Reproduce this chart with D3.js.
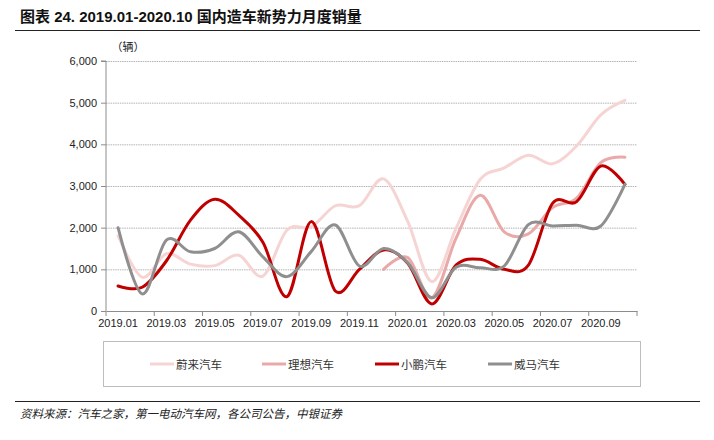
<html>

<head>
  <meta charset="utf-8">
  <script src="https://d3js.org/d3.v7.min.js"></script>
  <style>
    body {
      margin: 0;
      background: white;
    }

    svg {
      font-family: "Liberation Sans", Arial, "Noto Sans CJK SC", sans-serif;
    }

    .cTitle {
      font-weight: bold;
      font-size: 15px;
      fill: #111;
    }

    .axis text {
      font-size: 11px;
      fill: #222;
    }

    .axis path,
    .axis line {
      stroke: #8c8c8c;
    }

    .grid line {
      stroke: #b4b4b4;
      stroke-dasharray: 1.5, 0.8;
    }

    .grid path {
      display: none;
    }

    .legendText {
      font-family: "Noto Sans CJK SC", sans-serif;
      font-size: 11.5px;
      fill: #333;
    }

    .source {
      font-family: "Noto Sans CJK SC", sans-serif;
      font-size: 11.5px;
      font-style: italic;
      fill: #222;
    }
  </style>
</head>

<body>
  <svg id="salesVis" width="714" height="440"></svg>
  <script>
    // months on the x axis
    let months = ["2019.01", "2019.02", "2019.03", "2019.04", "2019.05", "2019.06", "2019.07", "2019.08",
      "2019.09", "2019.10", "2019.11", "2019.12", "2020.01", "2020.02", "2020.03", "2020.04", "2020.05",
      "2020.06", "2020.07", "2020.08", "2020.09", "2020.10"];

    // monthly sales (辆)
    let nioSales = [1805, 811, 1373, 1124, 1089, 1340, 837, 1943, 2019, 2526, 2528, 3170,
      2150, 707, 1980, 3155, 3436, 3740, 3533, 3965, 4708, 5055];
    // 理想 starts in 2019.12
    let liSales = [null, null, null, null, null, null, null, null, null, null, null, 1000,
      1280, 318, 1742, 2780, 1900, 1850, 2480, 2711, 3560, 3692];
    let xpengSales = [600, 570, 1200, 2180, 2680, 2300, 1650, 345, 2145, 480, 1000, 1465,
      1145, 170, 1100, 1240, 1000, 1100, 2585, 2625, 3478, 3040];
    let wmSales = [2000, 410, 1700, 1420, 1500, 1900, 1300, 825, 1425, 2065, 1080, 1500,
      1160, 320, 1050, 1040, 1080, 2075, 2040, 2060, 2040, 3040];

    let yTicks = [0, 1000, 2000, 3000, 4000, 5000, 6000];

    let seriesNames = ["蔚来汽车", "理想汽车", "小鹏汽车", "威马汽车"];
    let seriesValues = [nioSales, liSales, xpengSales, wmSales];
    let colorList = ["#f6d4d4", "#e9a9a9", "#c00000", "#8f8f8f"];

    let svg = d3.select("svg#salesVis");
    let w = svg.attr("width");

    let margins = { "left": 106, "right": 77, "top": 61, "bottom": 129 };
    let chartRight = w - margins.right;
    let chartBottom = 440 - margins.bottom;

    // title and rule
    svg.append("text")
      .attr("class", "cTitle")
      .attr("x", 20)
      .attr("y", 22)
      .text("图表 24. 2019.01-2020.10 国内造车新势力月度销量");

    svg.append("line")
      .attr("x1", 15).attr("x2", 700)
      .attr("y1", 30.5).attr("y2", 30.5)
      .attr("stroke", "#222")
      .attr("stroke-width", 1);

    let xScale = d3.scaleBand(months, [margins.left, chartRight]).padding(0);
    let yScale = d3.scaleLinear([0, 6000], [chartBottom, margins.top]);

    // grid
    let leftGrid = d3.axisLeft(yScale)
      .tickValues(yTicks.filter(t => t > 0))
      .tickFormat("")
      .tickSize(-(chartRight - margins.left));
    svg.append("g")
      .attr("class", "grid")
      .attr("transform", `translate(${margins.left}, 0)`)
      .call(leftGrid);

    // y axis
    let leftAxis = d3.axisLeft(yScale)
      .tickValues(yTicks)
      .tickFormat(d3.format(","))
      .tickSize(5)
      .tickPadding(4);
    svg.append("g")
      .attr("class", "y axis")
      .attr("transform", `translate(${margins.left}, 0)`)
      .call(leftAxis)
      .call(g => g.select(".domain").attr("d", `M-5,${margins.top}H0V${chartBottom}`));

    // x axis: labels every 2nd month, ticks on the band edges
    let labelMonths = months.filter((m, i) => i % 2 == 0);
    let xAxis = d3.axisBottom(xScale)
      .tickValues(labelMonths)
      .tickSize(0)
      .tickPadding(8);
    svg.append("g")
      .attr("class", "x axis")
      .attr("transform", `translate(0, ${chartBottom})`)
      .call(xAxis);

    let tickEdges = labelMonths.map(m => xScale(m)).concat([chartRight]);
    svg.append("g")
      .selectAll("line")
      .data(tickEdges)
      .join("line")
      .attr("x1", d => d).attr("x2", d => d)
      .attr("y1", chartBottom).attr("y2", chartBottom + 5)
      .attr("stroke", "#8c8c8c");

    svg.append("text")
      .attr("x", 128)
      .attr("y", 51)
      .attr("text-anchor", "middle")
      .style("font-family", "Noto Sans CJK SC")
      .style("font-size", "11px")
      .attr("fill", "#222")
      .text("（辆）");

    // lines
    let line = d3.line()
      .defined(d => d.v != null)
      .x(d => xScale(d.m) + xScale.bandwidth() / 2)
      .y(d => yScale(d.v))
      .curve(d3.curveCardinal.tension(0));

    seriesValues.forEach((vals, k) => {
      let pts = months.map((m, i) => ({ m: m, v: vals[i] }));
      svg.append("path")
        .datum(pts)
        .attr("fill", "none")
        .attr("stroke", colorList[k])
        .attr("stroke-width", 3)
        .attr("stroke-linejoin", "round")
        .attr("stroke-linecap", "round")
        .attr("d", line);
    });

    // legend
    svg.append("rect")
      .attr("x", 103.5).attr("y", 341.5)
      .attr("width", 537).attr("height", 45)
      .attr("fill", "none")
      .attr("stroke", "#bdbdbd");

    let legendX = [150, 262, 375, 488];
    let legendY = 364;
    seriesNames.forEach((name, k) => {
      svg.append("line")
        .attr("x1", legendX[k]).attr("x2", legendX[k] + 24)
        .attr("y1", legendY).attr("y2", legendY)
        .attr("stroke", colorList[k])
        .attr("stroke-width", 3);
      svg.append("text")
        .attr("class", "legendText")
        .attr("x", legendX[k] + 26)
        .attr("y", legendY)
        .style("dominant-baseline", "central")
        .text(name);
    });

    // source
    svg.append("line")
      .attr("x1", 15).attr("x2", 700)
      .attr("y1", 401.5).attr("y2", 401.5)
      .attr("stroke", "#222")
      .attr("stroke-width", 1);

    svg.append("text")
      .attr("class", "source")
      .attr("x", 20)
      .attr("y", 418)
      .text("资料来源：汽车之家，第一电动汽车网，各公司公告，中银证券");
  </script>
</body>

</html>
